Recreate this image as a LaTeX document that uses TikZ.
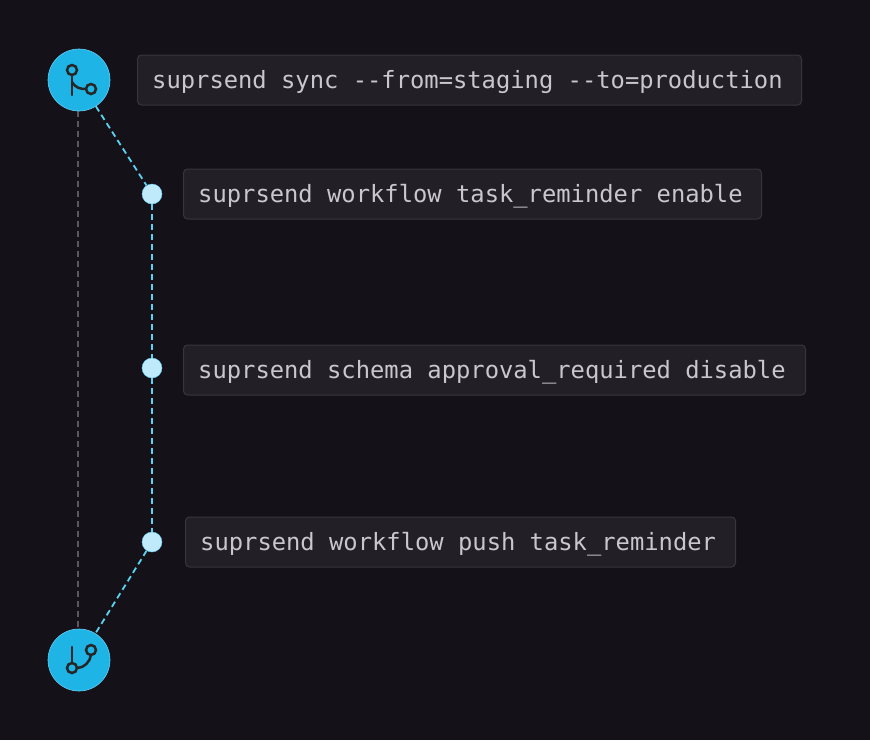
\documentclass[tikz,border=0pt]{standalone}
\usepackage{fontspec}
\setmonofont{DejaVu Sans Mono}
\begin{document}
\begin{tikzpicture}[x=1pt,y=-1pt]
\definecolor{bg}{HTML}{141218}
\definecolor{boxf}{HTML}{222026}
\definecolor{boxd}{HTML}{38363C}
\definecolor{txt}{HTML}{C8C8CC}
\definecolor{gr}{HTML}{5A585E}
\definecolor{bc}{HTML}{1EB4E6}
\definecolor{cyl}{HTML}{5AD2F0}
\tikzset{
  cmd/.style={draw=boxd, fill=boxf, rounded corners=4pt, line width=1pt, inner sep=0pt, minimum height=50pt, anchor=west},
  lbl/.style={anchor=west, inner sep=0pt, text=txt, font=\ttfamily\fontsize{23.8}{28}\selectfont},
  big/.style={circle, fill=bc, draw=cyan!60!white, line width=0.6pt, minimum size=62pt, inner sep=0pt},
  dot/.style={circle, fill=cyan!25!white, draw=cyan!60!white, minimum size=20pt, inner sep=0pt},
  cy/.style={draw=cyl, dash pattern=on 6pt off 4pt, line width=1.8pt},
  ico/.style={draw=black!85, line width=2.5pt, line cap=round}}
\fill[bg] (0,0) rectangle (870,740);
\useasboundingbox (0,0) rectangle (870,740);
\node[cmd, minimum width=664pt] (c1) at (137,80) {};
\node[lbl] (t1) at ([xshift=15pt,yshift=-2pt]c1.west) {suprsend sync --from=staging --to=production};
\node[cmd, minimum width=578pt] (c2) at (183,194) {};
\node[lbl] (t2) at ([xshift=15pt,yshift=-2pt]c2.west) {suprsend workflow task\_reminder enable};
\node[cmd, minimum width=622pt] (c3) at (183,370) {};
\node[lbl] (t3) at ([xshift=15pt,yshift=-2pt]c3.west) {suprsend schema approval\_required disable};
\node[cmd, minimum width=550pt] (c4) at (185,542) {};
\node[lbl] (t4) at ([xshift=15pt,yshift=-2pt]c4.west) {suprsend workflow push task\_reminder};
\coordinate (g1) at (78,111);
\coordinate (g2) at (78,629);
\draw[gr, dash pattern=on 6pt off 4pt, line width=1.5pt] (g1) -- (g2);
\node[big] (b1) at (79,80) {};
\node[big] (b2) at (79,660) {};
\node[dot] (d1) at (152,194) {};
\node[dot] (d2) at (152,368) {};
\node[dot] (d3) at (152,542) {};
\draw[cy] (b1) -- (d1);
\draw[cy] (d1) -- (d2);
\draw[cy] (d2) -- (d3);
\draw[cy] (d3) -- (b2);
\draw[ico] (72,70) circle (5);
\draw[ico] (72,75) -- (72,95);
\draw[ico] (91,89) circle (5);
\draw[ico] (72,82) .. controls (76,88) and (80,89) .. (86,89);
\draw[ico] (72,647) -- (72,663);
\draw[ico] (72,668) circle (5);
\draw[ico] (91,650) circle (5);
\draw[ico] (91,655) .. controls (90,662) and (84,668) .. (77,668);
\end{tikzpicture}
\end{document}
